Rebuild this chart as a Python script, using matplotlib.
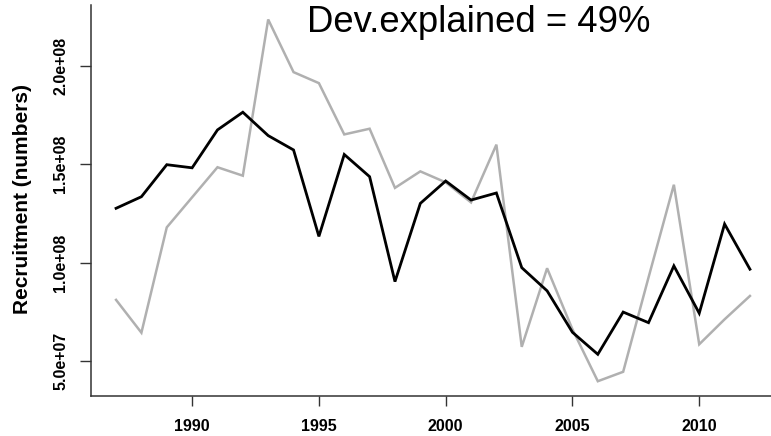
import matplotlib
matplotlib.use("Agg")
import matplotlib.pyplot as plt

# Annual recruitment: observed vs. model-predicted (millions of fish)
years = list(range(1987, 2013))
observed_m = [81.0, 64.3, 117.9, 133.2, 148.5, 144.2, 223.7, 196.9, 191.3, 165.2,
              168.1, 138.0, 146.4, 140.8, 130.6, 160.0, 57.1, 97.1, 66.0, 39.6,
              44.4, 92.4, 139.6, 58.4, 71.1, 83.0]
predicted_m = [127.6, 133.5, 149.8, 148.2, 167.5, 176.5, 164.6, 157.3, 113.3, 155.0,
               143.7, 90.3, 130.1, 141.5, 131.8, 135.4, 97.4, 85.6, 64.5, 53.3,
               74.8, 69.4, 98.3, 74.2, 119.6, 96.6]
x_ticks = [1990, 1995, 2000, 2005, 2010]
y_ticks = [5.0e7, 1.0e8, 1.5e8, 2.0e8]
y_tick_labels = ["5.0e+07", "1.0e+08", "1.5e+08", "2.0e+08"]
dev_explained = 49

observed = [v * 1e6 for v in observed_m]
predicted = [v * 1e6 for v in predicted_m]

plt.rcParams["font.family"] = ["Liberation Sans", "DejaVu Sans"]

fig = plt.figure(figsize=(7.71, 4.36), dpi=100)
ax = fig.add_axes([90.7 / 771, 40.3 / 436, (775.3 - 90.7) / 771, (431 - 40.3) / 436])

ax.plot(years, observed, color="#b0b0b0", lw=1.8, solid_joinstyle="miter")
ax.plot(years, predicted, color="black", lw=2.0, solid_joinstyle="miter")
ax.margins(x=0.04, y=0.04)

for side in ("top", "right"):
    ax.spines[side].set_visible(False)
for side in ("left", "bottom"):
    ax.spines[side].set_color("#333333")
    ax.spines[side].set_linewidth(1.1)

ax.set_xticks(x_ticks)
ax.set_xticklabels([str(t) for t in x_ticks], fontweight="bold", fontsize=11.5)
ax.set_yticks(y_ticks)
ax.set_yticklabels(y_tick_labels, fontweight="bold", fontsize=11.5,
                   rotation=90, va="center")
ax.tick_params(axis="x", length=7, width=1.0, color="#333333", pad=10)
ax.tick_params(axis="y", length=7.7, width=1.0, color="#333333", pad=8.5)

fig.text(23 / 771, 1 - 199 / 436, "Recruitment (numbers)", rotation=90,
         ha="center", va="center", fontweight="bold", fontsize=15)
fig.text(478.5 / 771, 1 - 32 / 436, f"Dev.explained = {dev_explained}%",
         ha="center", va="baseline", fontsize=26.3)

fig.savefig("out.png", dpi=100)
